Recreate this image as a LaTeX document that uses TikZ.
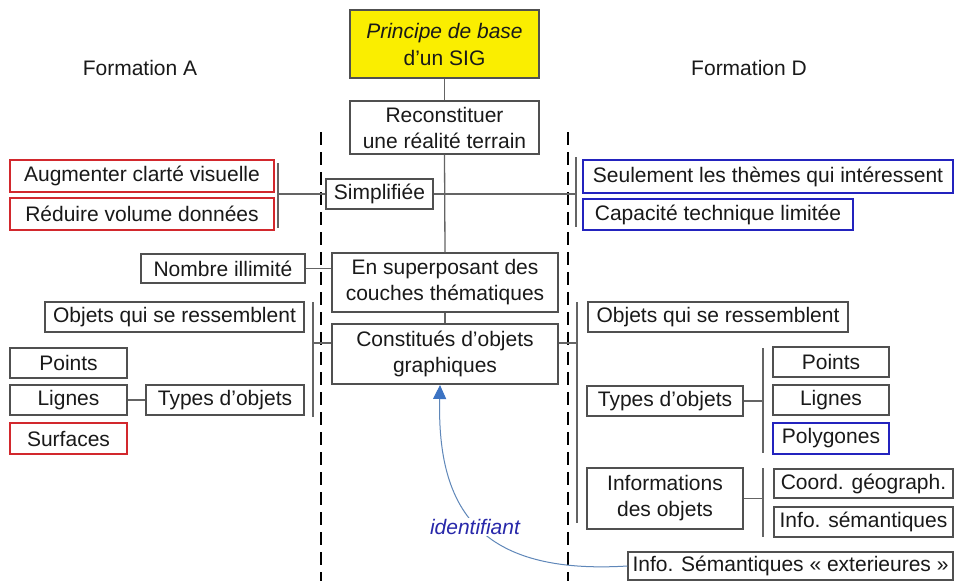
\documentclass[tikz,border=0pt]{standalone}
\usepackage{fontspec}
\setmainfont{Liberation Sans}
\usetikzlibrary{arrows.meta}
\definecolor{bordergray}{RGB}{80,80,80}
\definecolor{linegray}{RGB}{100,100,100}
\definecolor{boxred}{RGB}{210,40,45}
\definecolor{boxblue}{RGB}{35,35,190}
\definecolor{titleyellow}{RGB}{250,238,0}
\definecolor{txt}{RGB}{25,25,25}
\definecolor{curveblue}{RGB}{95,135,185}
\definecolor{tipblue}{RGB}{60,115,195}
\definecolor{lblblue}{RGB}{40,40,170}
\tikzset{
  box/.style={draw=bordergray, line width=1.3pt, inner sep=0pt, align=center, text=txt,
    font=\fontsize{21}{26}\selectfont},
  redbox/.style={box, draw=boxred, line width=2pt},
  bluebox/.style={box, draw=boxblue, line width=2pt},
  conn/.style={draw=linegray, line width=1.3pt},
  divider/.style={draw=black, line width=2pt, dash pattern=on 13pt off 7pt},
  plain/.style={text=txt, font=\fontsize{21}{26}\selectfont}
}
\begin{document}
\begin{tikzpicture}[x=1pt,y=-1pt]
\path[use as bounding box, fill=white] (0,0) rectangle (955,581);

% dividers
\coordinate (dlt) at (321,132); \coordinate (dlb) at (321,581);
\coordinate (drt) at (568,132); \coordinate (drb) at (568,581);
\draw[divider] (dlt) -- (dlb);
\draw[divider] (drt) -- (drb);

% headings
\node[plain] (formA) at (140,68) {Formation A};
\node[plain] (formD) at (749,68) {Formation D};

% centre column
\node[box, fill=titleyellow, minimum width=189pt, minimum height=68pt] (title) at (444.5,44)
  {\textit{Principe de base}\\[1pt]d’un SIG};
\node[box, fill=white, minimum width=189pt, minimum height=53pt] (recon) at (444.5,127.5)
  {Reconstituer\\une réalité terrain};
\node[box, fill=white, minimum width=226pt, minimum height=59pt] (ensup) at (445,282.5)
  {En superposant des\\couches thématiques};
\node[box, fill=white, minimum width=226pt, minimum height=60pt] (const) at (445,354)
  {Constitués d’objets\\graphiques};

% connectors behind simplifiée
\draw[conn] (title.south) -- (recon.north);
\draw[conn] (recon.south) -- (ensup.north);
\draw[conn] (ensup.south) -- (const.north);

\node[box, fill=white, minimum width=107pt, minimum height=30pt] (simpl) at (379.5,194) {Simplifiée};

% left: Simplifiée
\node[redbox, minimum width=264pt, minimum height=32pt] (augm) at (142,176) {Augmenter clarté visuelle};
\node[redbox, minimum width=264pt, minimum height=32pt] (redu) at (142,214) {Réduire volume données};
\coordinate (lbt) at (278,163); \coordinate (lbb) at (278,228);
\draw[conn] (lbt) -- (lbb);
\draw[conn] (simpl.west) -- (simpl.west -| lbt);

% right: Simplifiée
\node[bluebox, minimum width=370pt, minimum height=33pt] (seul) at (768,176.5) {Seulement les thèmes qui intéressent};
\node[bluebox, minimum width=270pt, minimum height=31pt] (capa) at (718,214.5) {Capacité technique limitée};
\coordinate (rbt) at (576,157); \coordinate (rbb) at (576,227);
\draw[conn] (rbt) -- (rbb);
\draw[conn] (simpl.east) -- (simpl.east -| rbt);

% Nombre illimité
\node[box, minimum width=164pt, minimum height=29pt] (nomb) at (223,268.5) {Nombre illimité};
\draw[conn] (nomb.east) -- (nomb.east -| ensup.west);

% left: Constitués
\coordinate (lct) at (313,302); \coordinate (lcb) at (313,417); \coordinate (lcm) at (313,343);
\draw[conn] (lct) -- (lcb);
\draw[conn] (lcm) -- (lcm -| const.west);
\node[box, minimum width=259pt, minimum height=30pt] (objL) at (174.5,317) {Objets qui se ressemblent};
\node[box, minimum width=117pt, minimum height=30pt] (ptsL) at (68.5,363) {Points};
\node[box, minimum width=117pt, minimum height=30pt] (ligL) at (68.5,400) {Lignes};
\node[redbox, minimum width=117pt, minimum height=31pt] (surL) at (68.5,438.5) {Surfaces};
\node[box, minimum width=158pt, minimum height=30pt] (typL) at (225,400) {Types d’objets};
\draw[conn] (ligL.east) -- (typL.west);

% right: Constitués
\coordinate (rct) at (577,302); \coordinate (rcb) at (577,523); \coordinate (rcm) at (577,343);
\draw[conn] (rct) -- (rcb);
\draw[conn] (const.east |- rcm) -- (rcm);
\node[box, minimum width=260pt, minimum height=30pt] (objR) at (718,317) {Objets qui se ressemblent};
\node[box, minimum width=156pt, minimum height=30pt] (typR) at (665,401) {Types d’objets};
\node[box, minimum width=116pt, minimum height=30pt] (ptsR) at (831,362) {Points};
\node[box, minimum width=116pt, minimum height=30pt] (ligR) at (831,400) {Lignes};
\node[bluebox, minimum width=116pt, minimum height=31pt] (polR) at (831,438.5) {Polygones};
\coordinate (tvt) at (763,348); \coordinate (tvb) at (763,453);
\draw[conn] (tvt) -- (tvb);
\draw[conn] (typR.east) -- (typR.east -| tvt);

\node[box, minimum width=156pt, minimum height=61pt] (infR) at (665,498.5) {Informations\\des objets};
\node[box, minimum width=179pt, minimum height=29pt] (coord) at (863.5,483.5) {Coord. géograph.};
\node[box, minimum width=179pt, minimum height=30pt] (isem) at (863.5,522) {Info. sémantiques};
\coordinate (ivt) at (763,468); \coordinate (ivb) at (763,537);
\draw[conn] (ivt) -- (ivb);
\draw[conn] (infR.east) -- (infR.east -| ivt);

\node[box, minimum width=325pt, minimum height=28pt] (ext) at (790.5,566) {Info. Sémantiques « exterieures »};

% identifiant arrow
\coordinate (tip) at (440,385);
\draw[draw=curveblue, line width=1pt, -{Triangle[length=14pt,width=13pt,color=tipblue,fill=tipblue]}]
  (ext.west) .. controls (480,575) and (437,510) .. (tip);
\node[fill=white, inner sep=1pt, text=lblblue, font=\fontsize{21}{26}\selectfont\itshape] (idf) at (475,527) {identifiant};
\end{tikzpicture}
\end{document}
